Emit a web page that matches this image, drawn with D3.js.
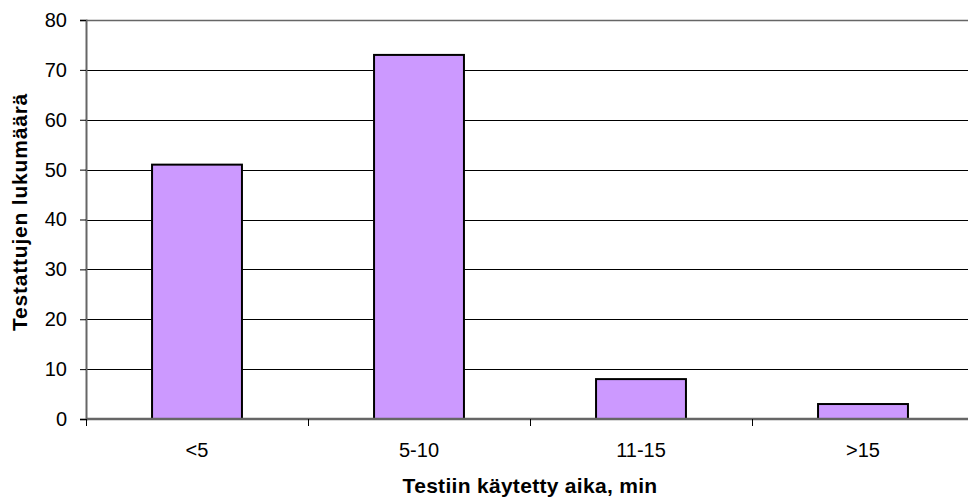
<!DOCTYPE html>
<html><head><meta charset="utf-8">
<script src="https://cdn.jsdelivr.net/npm/d3@7"></script>
<style>body{margin:0;background:#fff;}svg{display:block;font-family:Arial,"Liberation Sans",sans-serif;}</style>
</head><body>
<svg id="c" width="968" height="499"></svg>
<script>
const categories = ["<5", "5-10", "11-15", ">15"];
const values = [51, 73, 8, 3];
const yTicks = [0, 10, 20, 30, 40, 50, 60, 70, 80];
const xTitle = "Testiin käytetty aika, min";
const yTitle = "Testattujen lukumäärä";

(function () {
const svg = d3.select("#c");
const pL = 86, pR = 974, pT = 20, pB = 419;
const x = d3.scaleBand().domain(categories).range([pL, pR]).paddingInner(0.595).paddingOuter(0.2975);
const y = d3.scaleLinear().domain([0, 80]).range([pB, pT]);

// gridlines
svg.append("g").selectAll("line").data(yTicks.filter(d => d > 0)).join("line")
  .attr("x1", pL).attr("x2", pR)
  .attr("y1", d => Math.round(y(d)) + 0.5).attr("y2", d => Math.round(y(d)) + 0.5)
  .attr("stroke", d => d === 80 ? "#666" : "#000").attr("stroke-width", d => d === 80 ? 1.5 : 1);

// bars
svg.append("g").selectAll("rect").data(values).join("rect")
  .attr("x", (d, i) => x(categories[i]))
  .attr("width", x.bandwidth())
  .attr("y", d => y(d))
  .attr("height", d => pB - y(d))
  .attr("fill", "#CC99FF").attr("stroke", "#000").attr("stroke-width", 2);

// y axis
const ya = svg.append("g").attr("transform", `translate(${pL},0)`)
  .call(d3.axisLeft(y).tickValues(yTicks).tickSize(6).tickPadding(13));
ya.select(".domain").attr("stroke", "#666").attr("stroke-width", 2);
ya.selectAll(".tick line").attr("stroke", "#000");
ya.selectAll("text").attr("font-size", 20).attr("fill", "#000").attr("font-family", "Arial, Liberation Sans, sans-serif");

// x axis
const xa = svg.append("g").attr("transform", `translate(0,${pB})`)
  .call(d3.axisBottom(x).tickSize(0).tickPadding(24));
xa.select(".domain").remove();
xa.append("line").attr("x1", pL).attr("x2", pR).attr("y1", 0).attr("y2", 0).attr("stroke", "#666").attr("stroke-width", 2.5);
const bounds = [pL].concat(categories.map(c => x(c) + x.bandwidth() + x.step() * x.paddingInner() / 2));
xa.selectAll(".sep").data(bounds).join("line").attr("class", "sep")
  .attr("x1", d => Math.round(d) + 0.5).attr("x2", d => Math.round(d) + 0.5)
  .attr("y1", 0).attr("y2", 7).attr("stroke", "#000");
xa.selectAll(".tick text").attr("font-size", 20).attr("fill", "#000").attr("font-family", "Arial, Liberation Sans, sans-serif");

// titles
svg.append("text").attr("x", 530).attr("y", 493).attr("text-anchor", "middle")
  .attr("font-size", 21).attr("font-weight", "bold").attr("letter-spacing", 0.3).text(xTitle);
svg.append("text").attr("transform", `translate(27,212) rotate(-90)`).attr("text-anchor", "middle")
  .attr("font-size", 21).attr("font-weight", "bold").attr("letter-spacing", 0.8).text(yTitle);
})();
</script>
</body></html>
